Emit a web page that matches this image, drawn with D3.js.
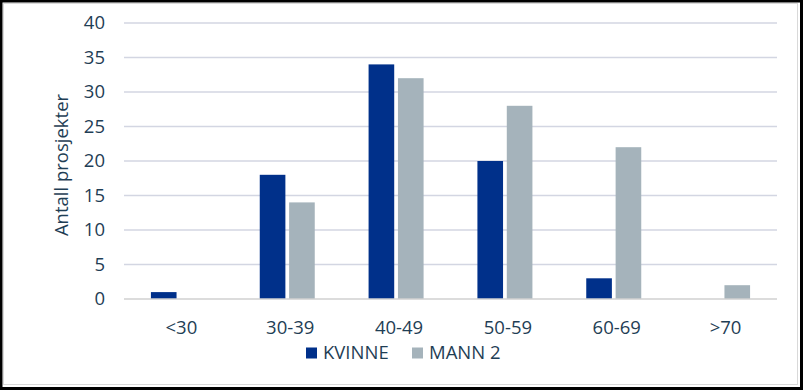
<!DOCTYPE html>
<html>
<head>
<meta charset="utf-8">
<script src="https://cdn.jsdelivr.net/npm/d3@7"></script>
<style>
  body { margin: 0; background: #fff; }
  svg { display: block; font-family: "Open Sans", "Noto Sans", sans-serif; }
</style>
</head>
<body>
<svg width="803" height="390"></svg>
<script>
// data
const categories = ['<30', '30-39', '40-49', '50-59', '60-69', '>70'];
const seriesNames = ['KVINNE', 'MANN 2'];
const kvinne = [1, 18, 34, 20, 3, 0];
const mann = [0, 14, 32, 28, 22, 2];
const yTicks = [0, 5, 10, 15, 20, 25, 30, 35, 40];
const colors = ['#00308a', '#a5b3bb'];

const svg = d3.select('svg');
const width = +svg.attr('width');
const height = +svg.attr('height');
const textColor = '#1f3e55';
const fs = 18.5;

// frame
svg.append('rect').attr('x', 1).attr('y', 1).attr('width', width - 2.5).attr('height', height - 2.5)
   .attr('fill', 'none').attr('stroke', '#000').attr('stroke-width', 3);
svg.append('rect').attr('x', 3.5).attr('y', 3.5).attr('width', width - 9).attr('height', height - 9)
   .attr('fill', 'none').attr('stroke', '#d9d9d9').attr('stroke-width', 1);

const plotL = 124, plotR = 777, plotT = 23, plotB = 299;

const x = d3.scaleBand().domain(categories).range([plotL, plotR]);
const y = d3.scaleLinear().domain([0, 40]).range([plotB, plotT]);

const barW = 24, gap = 7;
const xs = d3.scaleBand().domain(seriesNames).range([-(barW + gap / 2), barW + gap / 2]).paddingInner(gap / (2 * barW + gap));

// gridlines
svg.append('g').selectAll('line')
   .data(yTicks.filter(d => d > 0))
   .enter().append('line')
   .attr('x1', plotL).attr('x2', plotR)
   .attr('y1', d => y(d)).attr('y2', d => y(d))
   .attr('stroke', '#d3d6e2').attr('stroke-width', 1.5);

// y tick labels
svg.append('g').selectAll('text')
   .data(yTicks)
   .enter().append('text')
   .attr('x', 105).attr('y', d => y(d))
   .attr('dy', '0.35em')
   .attr('text-anchor', 'end')
   .attr('font-size', fs)
   .attr('fill', textColor)
   .text(d => d);

// bars
const rows = categories.map((c, i) => ({ cat: c, vals: [kvinne[i], mann[i]] }));
const groups = svg.append('g').selectAll('g')
   .data(rows)
   .enter().append('g')
   .attr('transform', d => `translate(${x(d.cat) + x.bandwidth() / 2},0)`);

groups.selectAll('rect')
   .data(d => d.vals.map((v, j) => ({ name: seriesNames[j], v: v, j: j })).filter(e => e.v > 0))
   .enter().append('rect')
   .attr('x', d => xs(d.name))
   .attr('width', xs.bandwidth())
   .attr('y', d => y(d.v))
   .attr('height', d => y(0) - y(d.v))
   .attr('fill', d => colors[d.j]);

// baseline
svg.append('line')
   .attr('x1', plotL).attr('x2', plotR)
   .attr('y1', y(0)).attr('y2', y(0))
   .attr('stroke', '#d0d0d0').attr('stroke-width', 1.5);

// x labels
svg.append('g').selectAll('text')
   .data(categories)
   .enter().append('text')
   .attr('x', d => x(d) + x.bandwidth() / 2 + 3)
   .attr('y', 328)
   .attr('dy', '0.35em')
   .attr('text-anchor', 'middle')
   .attr('font-size', fs)
   .attr('fill', textColor)
   .text(d => d);

// y title
svg.append('text')
   .attr('transform', 'translate(62,165) rotate(-90)')
   .attr('dy', '0.35em')
   .attr('text-anchor', 'middle')
   .attr('font-size', fs)
   .attr('fill', textColor)
   .text('Antall prosjekter');

// legend
const legendX = [306, 412];
const legend = svg.append('g').selectAll('g')
   .data(seriesNames)
   .enter().append('g')
   .attr('transform', (d, i) => `translate(${legendX[i]},353)`);
legend.append('rect')
   .attr('x', 0).attr('y', -5.5).attr('width', 11).attr('height', 11)
   .attr('fill', (d, i) => colors[i]);
legend.append('text')
   .attr('x', 17).attr('dy', '0.35em')
   .attr('font-size', fs)
   .attr('fill', textColor)
   .text(d => d);
</script>
</body>
</html>
